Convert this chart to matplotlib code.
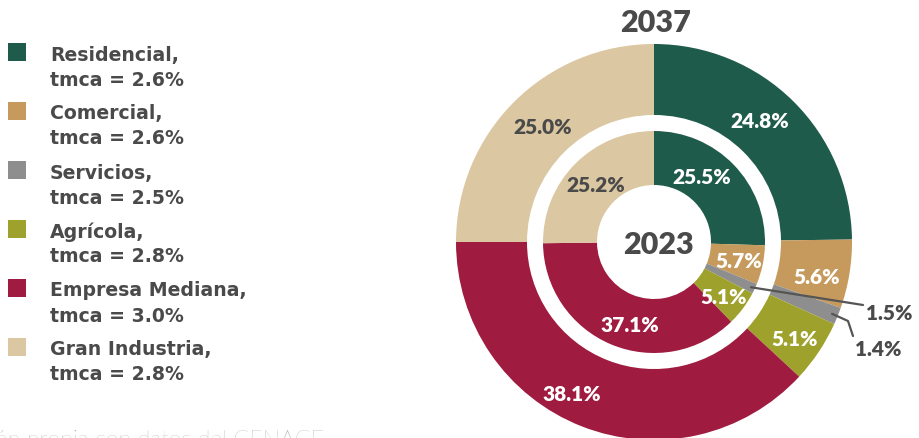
import matplotlib
matplotlib.use("Agg")
import matplotlib.pyplot as plt
from matplotlib.patches import Rectangle
import numpy as np

# Sector data
sectors = ["Residencial", "Comercial", "Servicios", "Agrícola",
           "Empresa Mediana", "Gran Industria"]
tmca = ["2.6%", "2.6%", "2.5%", "2.8%", "3.0%", "2.8%"]
share_2023 = [25.5, 5.7, 1.5, 5.1, 37.1, 25.2]
share_2037 = [24.8, 5.6, 1.4, 5.1, 38.1, 25.0]
colors = ["#1f5b4a", "#c69a5d", "#8e8e8e", "#9fa12d", "#a01b40", "#dbc7a1"]

W, H = 919, 439
TXT = "#4a4a4a"
FONT = "Lato"
LEG_FONT = "DejaVu Sans"

fig = plt.figure(figsize=(W / 100, H / 100), dpi=100)
ax = fig.add_axes([0, 0, 1, 1])


def P(x, y):
    """Pixel position (origin top-left) to axes data coordinates."""
    return x, H - y


cx, cy = P(654, 243)
R_OUT, W_OUT = 198, 71
R_IN, W_IN = 111, 54

ax.pie(share_2037, radius=R_OUT, center=(cx, cy), startangle=90,
       counterclock=False, colors=colors,
       wedgeprops=dict(width=W_OUT, linewidth=0))
ax.pie(share_2023, radius=R_IN, center=(cx, cy), startangle=90,
       counterclock=False, colors=colors,
       wedgeprops=dict(width=W_IN, linewidth=0))
ax.set_xlim(0, W)
ax.set_ylim(0, H)
ax.set_aspect("equal")
ax.axis("off")

lab_kw = dict(ha="center", va="center", fontsize=15, fontweight="heavy",
              family=FONT)

# Value labels, outer ring (2037)
out_pos = [(760, 121), (817, 277), None, (795, 340), (572, 395), (543, 128)]
out_col = ["white", "white", None, "white", "white", TXT]
for v, pos, c in zip(share_2037, out_pos, out_col):
    if pos is not None:
        ax.text(*P(*pos), f"{v:.1f}%", color=c, **lab_kw)

# Value labels, inner ring (2023)
in_pos = [(702, 177), (739, 261), None, (724, 298), (630, 325), (596, 185)]
in_col = ["white", "white", None, "white", "white", TXT]
for v, pos, c in zip(share_2023, in_pos, in_col):
    if pos is not None:
        ax.text(*P(*pos), f"{v:.1f}%", color=c, **lab_kw)


def mid_angle(values, idx):
    start = 90 - sum(values[:idx]) * 3.6
    return np.deg2rad(start - values[idx] * 1.8)


# Leader lines for the small "Servicios" slices
a_in = mid_angle(share_2023, 2)
p0 = (cx + 107 * np.cos(a_in), cy + 107 * np.sin(a_in))
p1 = P(863, 306)
ax.plot([p0[0], p1[0]], [p0[1], p1[1]], color="#555555", lw=1.6,
        solid_capstyle="round")
ax.text(*P(889, 314), f"{share_2023[2]:.1f}%", color=TXT, **lab_kw)

a_out = mid_angle(share_2037, 2)
q0 = (cx + 192 * np.cos(a_out), cy + 192 * np.sin(a_out))
q1 = P(848, 322)
q2 = P(853, 337)
ax.plot([q0[0], q1[0], q2[0]], [q0[1], q1[1], q2[1]], color="#555555",
        lw=1.6, solid_capstyle="round", solid_joinstyle="round")
ax.text(*P(878, 350), f"{share_2037[2]:.1f}%", color=TXT, **lab_kw)

# Year titles
ax.text(*P(656, 23), "2037", ha="center", va="center", fontsize=22,
        fontweight="heavy", color=TXT, family=FONT)
ax.text(*P(659, 245), "2023", ha="center", va="center", fontsize=22,
        fontweight="heavy", color=TXT, family=FONT)

# Legend
leg_y0, leg_dy = 53, 59
for i, (name, rate, col) in enumerate(zip(sectors, tmca, colors)):
    yc = leg_y0 + i * leg_dy
    x0, y0 = P(8, yc + 9)
    ax.add_patch(Rectangle((x0, y0), 18, 18, facecolor=col, edgecolor="none"))
    ax.text(*P(50, yc + 2), f"{name},", ha="left", va="center",
            fontsize=13.6, fontweight="bold", color=TXT, family=LEG_FONT)
    ax.text(*P(50, yc + 27), f"tmca = {rate}", ha="left", va="center",
            fontsize=13.6, fontweight="bold", color=TXT, family=LEG_FONT)

# Source note (runs off the bottom-left corner)
ax.text(*P(324, 447), "Fuente: Elaboración propia con datos del CENACE",
        ha="right", va="baseline", fontsize=16.7, fontweight="light",
        color="#9a9a9a", family=FONT)

fig.savefig("out.png", dpi=100)
